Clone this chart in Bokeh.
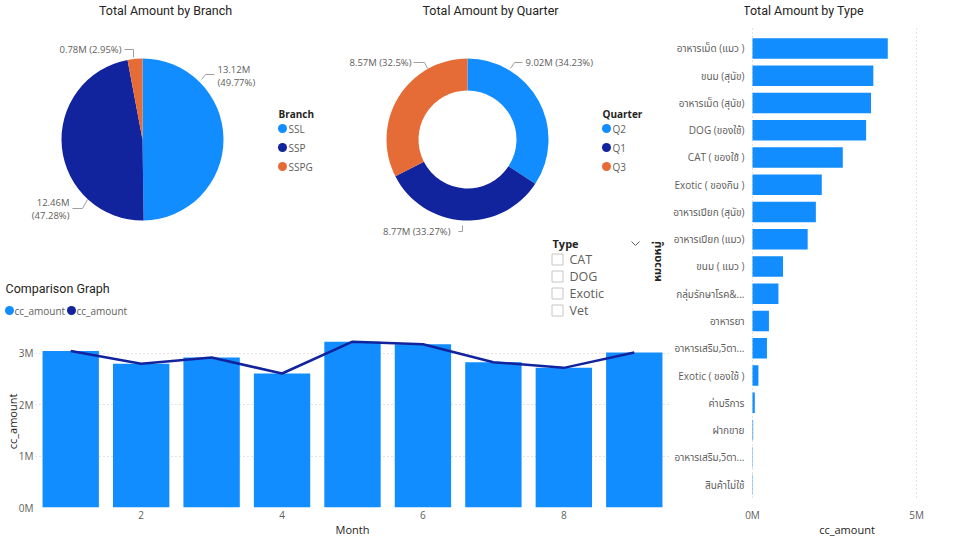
import numpy as np
from bokeh.plotting import figure
from bokeh.layouts import row, column
from bokeh.models import Range1d, FixedTicker, CustomJSTickFormatter, ColumnDataSource
from bokeh.core.properties import value
from bokeh.embed import file_html
from bokeh.resources import INLINE

# ---------------- data (amounts in millions) ----------------
branch_names = ["SSL", "SSP", "SSPG"]
branch_amount = [13.12, 12.46, 0.78]
branch_share = [49.77, 47.28, 2.95]

quarter_names = ["Q2", "Q1", "Q3"]
quarter_amount = [9.02, 8.77, 8.57]
quarter_share = [34.23, 33.27, 32.5]

months = [1, 2, 3, 4, 5, 6, 7, 8, 9]
month_amount = [3.05, 2.80, 2.92, 2.61, 3.23, 3.18, 2.83, 2.72, 3.02]
month_ticks = [2, 4, 6, 8]
amount_ticks = [0, 1, 2, 3]

type_names = [
    "อาหารเม็ด (แมว )", "ขนม (สุนัข)", "อาหารเม็ด (สุนัข)", "DOG (ของใช้)",
    "CAT ( ของใช้ )", "Exotic ( ของกิน )", "อาหารเปียก (สุนัข)", "อาหารเปียก (แมว)",
    "ขนม ( แมว )", "กลุ่มรักษาโรค&...", "อาหารยา", "อาหารเสริม,วิตา...",
    "Exotic ( ของใช้ )", "ค่าบริการ", "ฝากขาย", "อาหารเสริม,วิตา...", "สินค้าไม่ใช้",
]
type_amount = [4.12, 3.68, 3.61, 3.46, 2.75, 2.11, 1.93, 1.68, 0.93,
               0.79, 0.50, 0.44, 0.18, 0.07, 0.02, 0.01, 0.01]
type_ticks = [0, 5]

slicer_items = ["CAT", "DOG", "Exotic", "Vet"]
series_name = "cc_amount"

# ---------------- styling ----------------
BLUE, NAVY, ORANGE = "#118DFF", "#12239E", "#E66C37"
DARK, GREY, LEADER, GRID = "#252423", "#605E5C", "#A19F9D", "#C8C6C4"
UI_FONT = "Open Sans, Noto Sans Thai, sans-serif"
TITLE_FONT = "Roboto"


def canvas(ox, oy, w, h):
    """Axis-free panel whose data coordinates are page pixels (y negated)."""
    p = figure(width=w, height=h, x_range=Range1d(ox, ox + w), y_range=Range1d(-(oy + h), -oy),
               x_axis_location=None, y_axis_location=None, toolbar_location=None,
               output_backend="svg", min_border=0, outline_line_color=None)
    p.grid.visible = False
    return p


def write(p, x, y, txt, size="10px", color=GREY, align="left", font=UI_FONT, bold=False, angle=0.0):
    p.text(x=[x], y=[-y], text=[txt], text_font=value(font), text_font_size=size,
           text_color=color, text_align=align, text_baseline="middle",
           text_font_style="bold" if bold else "normal", angle=angle)


def leader(p, pts):
    p.line([q[0] for q in pts], [-q[1] for q in pts], line_color=LEADER, line_width=1)


def ring(p, cx, cy, r_out, r_in, amounts, colors):
    frac = np.asarray(amounts) / np.sum(amounts)
    edges = np.concatenate([[0.0], np.cumsum(frac)])
    src = ColumnDataSource(dict(
        start=np.pi / 2 - 2 * np.pi * edges[:-1],
        end=np.pi / 2 - 2 * np.pi * edges[1:],
        color=colors,
    ))
    if r_in <= 0:
        p.wedge(x=cx, y=-cy, radius=r_out, radius_units="screen", start_angle="start",
                end_angle="end", direction="clock", fill_color="color", line_color=None, source=src)
    else:
        p.annular_wedge(x=cx, y=-cy, inner_radius=r_in, outer_radius=r_out,
                        inner_radius_units="screen", outer_radius_units="screen",
                        start_angle="start", end_angle="end", direction="clock",
                        fill_color="color", line_color=None, source=src)


def legend_block(p, x, y, title, names, colors):
    write(p, x, y, title, size="10px", color=DARK, bold=True)
    ys = [y + 15 + 19 * i for i in range(len(names))]
    p.scatter(x=[x + 4] * len(names), y=[-v for v in ys], marker="circle", size=9,
              fill_color=colors, line_color=None)
    for name, yy in zip(names, ys):
        write(p, x + 10, yy, name, size="10px", color=GREY)


TOP_H = 320

# ---------------- pie: amount by branch (+ combo chart header) ----------------
pie = canvas(0, 0, 330, TOP_H)
write(pie, 165, 10, "Total Amount by Branch", size="12.5px", color=DARK, align="center", font=TITLE_FONT)
branch_colors = [BLUE, NAVY, ORANGE]
ring(pie, 142, 139, 81, 0, branch_amount, branch_colors)
amt = [f"{a:.2f}M" for a in branch_amount]
pct = [f"({s:g}%)" for s in branch_share]
write(pie, 217, 69, amt[0], size="9.5px")
write(pie, 217, 82, pct[0], size="9.5px")
leader(pie, [(201, 79), (205, 74), (214, 74)])
write(pie, 69, 202, amt[1], size="9.5px", align="right")
write(pie, 69, 215, pct[1], size="9.5px", align="right")
leader(pie, [(72, 208), (82, 208), (87, 199)])
write(pie, 121, 49, f"{amt[2]} {pct[2]}", size="9.5px", align="right")
leader(pie, [(124, 49), (133, 49), (133, 57)])
legend_block(pie, 278, 113, "Branch", branch_names, branch_colors)

# header of the comparison chart below
write(pie, 5, 288, "Comparison Graph", size="12.5px", color=DARK, font=TITLE_FONT)
pie.scatter(x=[9, 71], y=[-310, -310], marker="circle", size=9, fill_color=[BLUE, NAVY], line_color=None)
write(pie, 14, 310, series_name, size="10px")
write(pie, 76, 310, series_name, size="10px")

# ---------------- donut: amount by quarter (+ type slicer) ----------------
donut = canvas(330, 0, 340, TOP_H)
write(donut, 490, 10, "Total Amount by Quarter", size="12.5px", color=DARK, align="center", font=TITLE_FONT)
quarter_colors = [BLUE, NAVY, ORANGE]
ring(donut, 467, 139, 81, 49, quarter_amount, quarter_colors)
qlab = [f"{a:.2f}M ({s:g}%)" for a, s in zip(quarter_amount, quarter_share)]
write(donut, 525, 62, qlab[0], size="9.5px")
leader(donut, [(510, 68), (514, 62), (522, 62)])
write(donut, 450, 231, qlab[1], size="9.5px", align="right")
leader(donut, [(458, 231), (462, 231), (462, 225)])
write(donut, 411, 62, qlab[2], size="9.5px", align="right")
leader(donut, [(413, 62), (424, 62), (427, 68)])
legend_block(donut, 602, 113, "Quarter", quarter_names, quarter_colors)

# type slicer
write(donut, 552, 243, "Type", size="11px", color=DARK, bold=True)
donut.line([631, 635, 639], [-241, -245, -241], line_color=GREY, line_width=1)
box_y = [259 + 17 * i for i in range(len(slicer_items))]
donut.scatter(x=[557] * len(box_y), y=[-v for v in box_y], marker="square", size=11,
              fill_color="white", line_color=GRID, line_width=1)
for name, yy in zip(slicer_items, box_y):
    write(donut, 569, yy, name, size="12.5px", color=GREY)
# category-axis title of the type chart
write(donut, 656, 261, "หมวดหมู่", size="11px", color=DARK, align="center", bold=True, angle=np.pi / 2)

# ---------------- combo: monthly bars + line ----------------
combo = figure(width=670, height=220, x_range=Range1d(0.5, 9.5), y_range=Range1d(0, 3.35),
               toolbar_location=None, output_backend="svg", outline_line_color=None,
               min_border_left=35, min_border_right=1, min_border_top=15, min_border_bottom=33)
combo.vbar(x=months, top=month_amount, width=0.8, fill_color=BLUE, line_color=None)
combo.line(x=months, y=month_amount, line_color=NAVY, line_width=2.5)
combo.xaxis.ticker = FixedTicker(ticks=month_ticks)
combo.yaxis.ticker = FixedTicker(ticks=amount_ticks)
combo.yaxis.formatter = CustomJSTickFormatter(code="return tick + 'M'")
combo.xaxis.axis_label = "Month"
combo.yaxis.axis_label = series_name
combo.xgrid.visible = False
combo.ygrid.grid_line_color = GRID
combo.ygrid.grid_line_dash = "1 3"

# ---------------- horizontal bars: amount by type ----------------
n = len(type_names)
idx = list(range(n))
PX_PER_M = 32.83                      # horizontal scale, pixels per million
X0 = -8 / PX_PER_M                    # small gutter left of the zero line (title overhang)
Y_BARS_TOP, Y_BOTTOM = -0.77, n - 0.45
TITLE_BAND = 27                       # pixels reserved for the chart title
BOTTOM_BORDER = 41
row_px = (540 - TITLE_BAND - BOTTOM_BORDER) / (Y_BOTTOM - Y_BARS_TOP)
Y_TOP = Y_BARS_TOP - TITLE_BAND / row_px

tbar = figure(width=290, height=540, x_range=Range1d(X0, 6), y_range=Range1d(Y_BOTTOM, Y_TOP),
              toolbar_location=None, output_backend="svg", outline_line_color=None,
              min_border_left=74, min_border_right=11, min_border_top=0,
              min_border_bottom=BOTTOM_BORDER)
tbar.hbar(y=idx, right=type_amount, height=0.76, fill_color=BLUE, line_color=None)
tbar.yaxis.ticker = FixedTicker(ticks=idx)
tbar.yaxis.major_label_overrides = {i: name for i, name in enumerate(type_names)}
tbar.xaxis.ticker = FixedTicker(ticks=type_ticks)
tbar.xaxis.formatter = CustomJSTickFormatter(code="return tick + 'M'")
tbar.xaxis.axis_label = series_name
tbar.ygrid.visible = False
tbar.xgrid.grid_line_color = GRID
tbar.xgrid.grid_line_dash = "1 3"
# title band: keep the dotted grid out of it, then the centred title
tbar.quad(left=X0, right=6, top=Y_TOP, bottom=Y_BARS_TOP, fill_color="white", line_color=None)
tbar.text(x=[X0 + 59 / PX_PER_M], y=[Y_TOP + 10 / row_px], text=["Total Amount by Type"],
          text_font=value(TITLE_FONT), text_font_size="12.5px", text_color=DARK,
          text_align="center", text_baseline="middle")

for fig in (combo, tbar):
    for ax in fig.axis:
        ax.axis_line_color = None
        ax.major_tick_line_color = None
        ax.minor_tick_line_color = None
        ax.major_tick_out = 0
        ax.major_tick_in = 0
        ax.minor_tick_out = 0
        ax.minor_tick_in = 0
        ax.major_label_text_font = UI_FONT
        ax.major_label_text_font_size = "10px"
        ax.major_label_text_color = GREY
        ax.axis_label_text_font = UI_FONT
        ax.axis_label_text_font_size = "11px"
        ax.axis_label_text_font_style = "normal"
        ax.axis_label_text_color = DARK
combo.xaxis.major_label_standoff = 3
combo.xaxis.axis_label_standoff = 0
combo.yaxis.major_label_standoff = 2
combo.yaxis.axis_label_standoff = -4
tbar.xaxis.major_label_standoff = 8
tbar.xaxis.axis_label_standoff = -3
tbar.yaxis.major_label_standoff = 0

left = column(row(pie, donut), combo)
layout = row(left, tbar)

with open("out.html", "w") as f:
    f.write(file_html(layout, INLINE, title="Sales Dashboard"))
